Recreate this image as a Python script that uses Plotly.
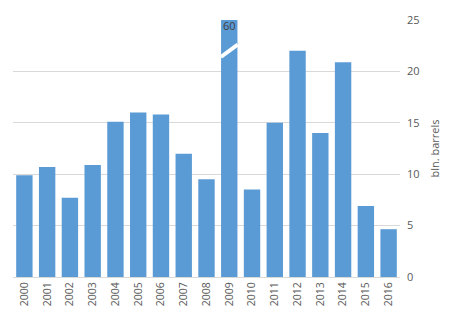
import plotly.graph_objects as go

years = [str(y) for y in range(2000, 2017)]
reserves = [9.9, 10.7, 7.7, 10.9, 15.1, 16.0, 15.8, 12.0, 9.5, 60,
            8.5, 15.0, 22.0, 14.0, 20.9, 6.9, 4.65]
y_ticks = [0, 5, 10, 15, 20, 25]
axis_top = 25
bar_color = "#5B9BD5"
text_color = "#595959"

pos = list(range(len(years)))

fig = go.Figure()
fig.add_trace(go.Bar(
    x=pos, y=reserves, marker_color=bar_color, marker_line_width=0,
    cliponaxis=True, hovertext=years, hoverinfo="text+y",
))

# Bars that run past the axis top get a break mark and their value printed
for i, v in enumerate(reserves):
    if v > axis_top:
        fig.add_shape(type="line", xref="x", yref="y",
                      x0=i - 0.37, x1=i + 0.37, y0=21.4, y1=22.6,
                      line=dict(color="white", width=4))
        fig.add_annotation(x=i, y=axis_top, xref="x", yref="y",
                           text=str(v), showarrow=False, yanchor="top",
                           yshift=4, font=dict(size=11, color="#404040"))

fig.update_layout(
    width=454, height=322,
    margin=dict(l=13, r=54, t=14, b=45),
    plot_bgcolor="white", paper_bgcolor="white",
    bargap=0.28, showlegend=False,
    font=dict(family="Open Sans, Liberation Sans, sans-serif", size=11, color=text_color),
    xaxis=dict(
        range=[-0.5, len(years) - 0.5], tickvals=pos, ticktext=years,
        tickangle=-90, showgrid=False, zeroline=False,
        showline=True, linecolor="#d9d9d9", linewidth=1,
        ticks="", tickfont=dict(size=10.5, color=text_color),
    ),
    yaxis=dict(
        side="right", range=[0, axis_top], tickvals=y_ticks,
        showgrid=True, gridcolor="#d9d9d9", gridwidth=1,
        zeroline=False, ticks="", ticklabelstandoff=6,
        tickfont=dict(size=11, color=text_color),
        title=dict(text="bln. barrels", font=dict(size=11, color=text_color), standoff=12),
    ),
)

fig.write_html("out.html")
